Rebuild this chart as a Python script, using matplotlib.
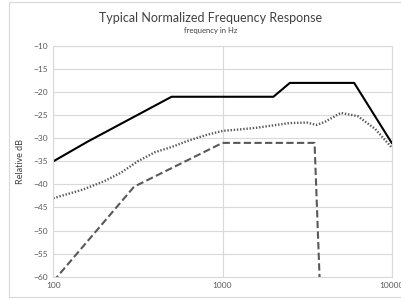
import matplotlib.pyplot as plt
from matplotlib.patches import Rectangle

# dane
solid_f = [100, 160, 500, 2000, 2500, 6000, 10000]
solid_db = [-35, -30.7, -21, -21, -18, -18, -31]

dotted_f = [100, 150, 200, 250, 315, 400, 500, 630, 800, 1000, 1250, 1600,
            2000, 2500, 3150, 3600, 4000, 5000, 6300, 8000, 10000]
dotted_db = [-43, -41.1, -39.3, -37.5, -35, -33, -31.9, -30.5, -29.3, -28.4, -28.1,
             -27.7, -27.2, -26.7, -26.6, -27.1, -26.5, -24.5, -25.2, -28, -32]

dashed_f = [100, 300, 1000, 3500, 3750]
dashed_db = [-61, -40.5, -31, -31, -60.5]

yticks = [-10, -15, -20, -25, -30, -35, -40, -45, -50, -55, -60]
xticks = [100, 1000, 10000]

plt.rcParams['font.family'] = ['Lato', 'DejaVu Sans']

fig = plt.figure(figsize=(4.01, 2.99), dpi=100)
# ramka wykresu
fig.patches.append(Rectangle((9 / 401, 2 / 299), 1.1, 295 / 299, transform=fig.transFigure,
                             fill=False, edgecolor='#d9d9d9', linewidth=0.8))

ax = fig.add_axes([53.3 / 401, 1 - 276.7 / 299, 338.4 / 401, 230.7 / 299])
ax.set_xscale('log')
ax.set_xlim(100, 10000)
ax.set_ylim(-60, -10)

ax.plot(solid_f, solid_db, color='black', linewidth=1.5)
ax.plot(dotted_f, dotted_db, color='#595959', linewidth=1.7, linestyle=(0, (0.6, 0.75)))
ax.plot(dashed_f, dashed_db, color='#595959', linewidth=1.5, linestyle=(0, (3.5, 1.6)))

ax.set_yticks(yticks)
ax.set_xticks(xticks)
ax.set_xticklabels([str(x) for x in xticks])
ax.minorticks_off()
ax.grid(True, color='#d9d9d9', linewidth=0.8)
ax.set_axisbelow(True)
for s in ax.spines.values():
    s.set_color('#d9d9d9')
    s.set_linewidth(0.8)
ax.tick_params(length=0, labelsize=6, labelcolor='#595959', pad=4)

ax.set_ylabel('Relative dB', fontsize=6.5, color='#404040', labelpad=6)

fig.text(211 / 401, 1 - 18 / 299, 'Typical Normalized Frequency Response',
         ha='center', va='center', fontsize=9, color='#404040')
fig.text(211 / 401, 1 - 30 / 299, 'frequency in Hz',
         ha='center', va='center', fontsize=5.5, color='#404040')

fig.savefig('out.png', dpi=100)
